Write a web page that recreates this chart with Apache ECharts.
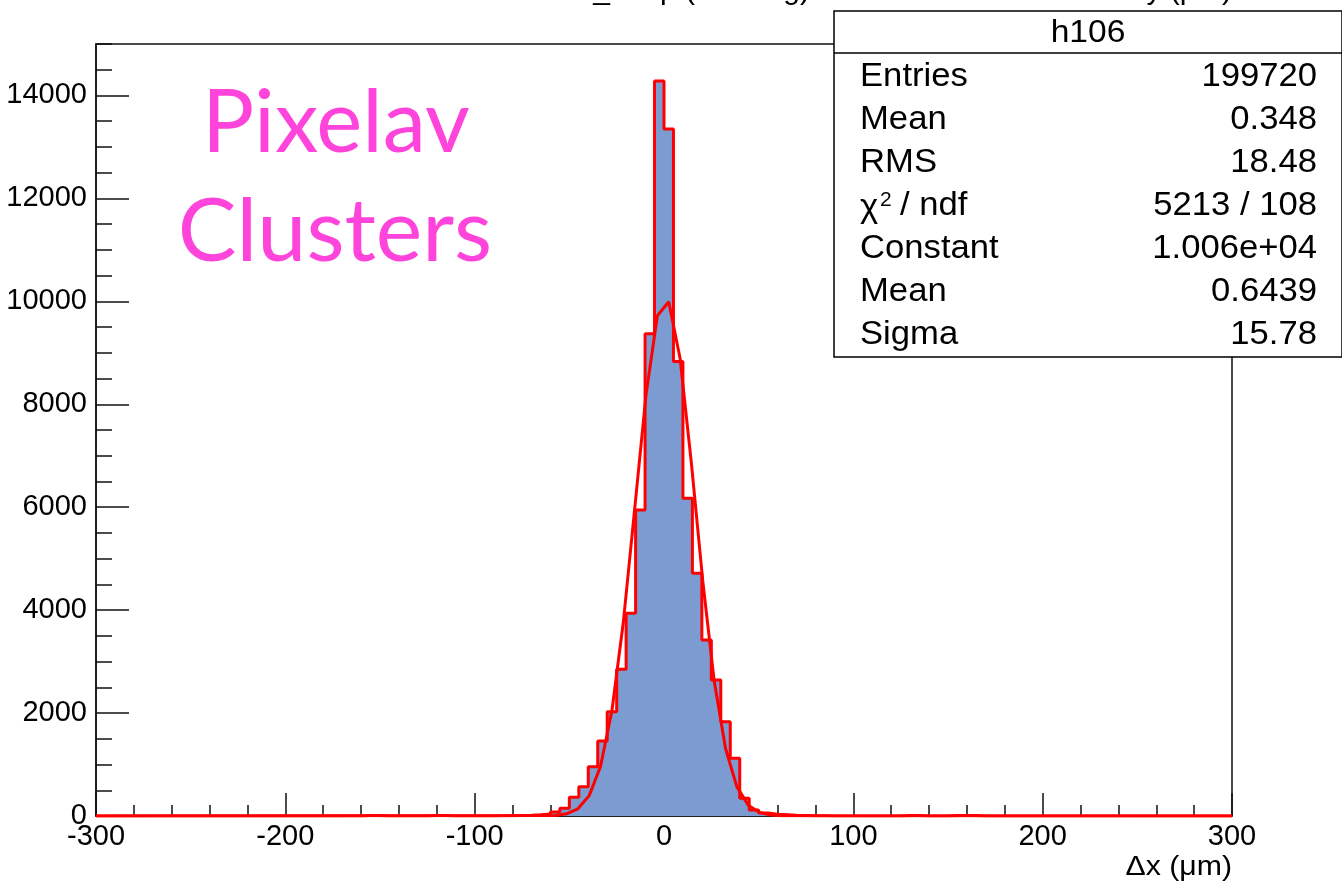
<!DOCTYPE html>
<html>
<head>
<meta charset="utf-8">
<script src="https://cdn.jsdelivr.net/npm/echarts@6/dist/echarts.min.js"></script>
<style>
  html, body { margin: 0; padding: 0; background: #fff; }
  #chart { width: 1342px; height: 883px; }
</style>
</head>
<body>
<div id="chart"></div>
<script>
// Histogram binning: 120 bins of 5 um between -300 and 300
const xLow = -300;
const xHigh = 300;
const binWidth = 5;

// Bin contents (entries per bin), left to right
const counts = [
  0, 0, 0, 0, 0, 0, 0, 0, 0, 0,
  0, 0, 0, 0, 0, 0, 0, 0, 0, 0,
  0, 0, 0, 0, 0, 0, 0, 0, 10, 10,
  0, 0, 0, 0, 0, 10, 10, 0, 0, 0,
  0, 0, 5, 5, 10, 15, 25, 40, 80, 150,
  363, 570, 958, 1458, 2028, 2851, 3940, 5948, 9368, 14280,
  13350, 8830, 6175, 4717, 3421, 2643, 1833, 1121, 344, 117,
  60, 35, 25, 15, 10, 5, 5, 0, 0, 0,
  0, 0, 0, 0, 0, 10, 10, 0, 0, 0,
  10, 10, 10, 0, 0, 0, 0, 0, 0, 0,
  0, 0, 0, 0, 0, 0, 0, 0, 0, 0,
  0, 0, 0, 0, 0, 0, 0, 0, 0, 0
];

// Gaussian fit curve, sampled points (x in um, height in entries)
const fitX = [-300, -57.5, -51.5, -45.5, -39.5, -33.5, -27.5, -21.5, -15.5, -9.5, -3.5,
  2.5, 8.5, 14.5, 20.5, 26.5, 32.5, 38.5, 44.5, 50.5, 56.5, 62.5, 300];
const fitY = [0, 11, 43, 140, 396, 968, 2051, 3759, 5961, 8182, 9719,
  9991, 8888, 6842, 4558, 2628, 1311, 566, 211, 68, 19, 5, 0];

// Axis ticks
const xTicks = [-300, -200, -100, 0, 100, 200, 300];
const yTicks = [0, 2000, 4000, 6000, 8000, 10000, 12000, 14000];

// Statistics box
const statTitle = 'h106';
const statNames = ['Entries', 'Mean', 'RMS', 'CHI2', 'Constant', 'Mean', 'Sigma'];
const statValues = ['199720', '0.348', '18.48', '5213 / 108', '1.006e+04', '0.6439', '15.78'];

const histData = counts.map((c, i) => [xLow + i * binWidth, c]);
histData.push([xHigh, counts[counts.length - 1]]);
const fitData = fitX.map((x, i) => [x, fitY[i]]);

const chart = echarts.init(document.getElementById('chart'), null, { renderer: 'canvas' });

const FONT = '"Liberation Sans", Arial, Helvetica, sans-serif';
const boxLeft = 834, boxTop = 11, boxRight = 1342, boxBottom = 357;
const rowY0 = 77, rowStep = 43;

function txt(x, y, text, size, align, extra) {
  return Object.assign({
    type: 'text', z: 102, x: x, y: y,
    style: { text: text, font: size + 'px ' + FONT, fill: '#000',
      align: align, verticalAlign: 'middle', textAlign: align, textVerticalAlign: 'middle' }
  }, extra || {});
}

const statElems = [];
statElems.push({
  type: 'rect', z: 100,
  shape: { x: boxLeft, y: boxTop, width: boxRight - boxLeft, height: boxBottom - boxTop },
  style: { fill: '#fff', stroke: '#000', lineWidth: 1.5 }
});
statElems.push({
  type: 'line', z: 101,
  shape: { x1: boxLeft, y1: 53, x2: boxRight, y2: 53 },
  style: { stroke: '#000', lineWidth: 1.5 }
});
statElems.push(txt(1088, 33, statTitle, 32, 'center', { scaleX: 1.05 }));
statNames.forEach((name, i) => {
  const y = rowY0 + i * rowStep;
  if (name === 'CHI2') {
    statElems.push(txt(860, y + 2, 'χ', 33, 'left', { scaleX: 1.05 }));
    statElems.push(txt(880, y - 6, '2', 21, 'left'));
    statElems.push(txt(900, y, '/ ndf', 33, 'left', { scaleX: 1.05 }));
  } else {
    statElems.push(txt(860, y, name, 33, 'left', { scaleX: 1.05 }));
  }
  statElems.push(txt(1317, y, statValues[i], 33, 'right', { scaleX: 1.05 }));
});

const option = {
  animation: false,
  backgroundColor: '#fff',
  grid: { left: 96, top: 44, right: 110, bottom: 67, show: true, borderColor: '#111', borderWidth: 1.5, backgroundColor: 'transparent' },
  xAxis: {
    type: 'value', min: xLow, max: xHigh, interval: 100,
    axisLine: { show: true, onZero: false, lineStyle: { color: '#111', width: 1.5 } },
    axisTick: { show: true, inside: true, length: 23, lineStyle: { color: '#111', width: 1.5 } },
    minorTick: { show: true, splitNumber: 5, length: 11, lineStyle: { color: '#111', width: 1.5 } },
    splitLine: { show: false },
    axisLabel: {
      margin: 6, fontSize: 29, fontFamily: FONT, color: '#000',
      formatter: v => xTicks.includes(v) ? String(v) : ''
    }
  },
  yAxis: [
    {
      type: 'value', min: 0, max: 15000, interval: 2000, position: 'left',
      axisLine: { show: true, onZero: false, lineStyle: { color: '#111', width: 1.5 } },
      axisTick: { show: true, inside: true, length: 33, lineStyle: { color: '#111', width: 1.5 } },
      splitLine: { show: false },
      axisLabel: {
        margin: 9, fontSize: 29, fontFamily: FONT, color: '#000', showMaxLabel: false,
        formatter: v => yTicks.includes(v) ? String(v) : ''
      }
    },
    {
      type: 'value', min: 0, max: 15000, interval: 500, position: 'left', offset: 0,
      axisLine: { show: false, onZero: false },
      axisTick: { show: true, inside: true, length: 16, lineStyle: { color: '#111', width: 1.5 } },
      splitLine: { show: false },
      axisLabel: { show: false }
    }
  ],
  series: [
    {
      type: 'line', name: 'h106', data: histData, step: 'end', yAxisIndex: 0,
      symbol: 'none', z: 2,
      lineStyle: { color: '#ff0000', width: 3 },
      areaStyle: { color: '#7b9bd1', opacity: 1 }
    },
    {
      type: 'line', name: 'gaus', data: fitData, yAxisIndex: 0,
      symbol: 'none', z: 3, smooth: false,
      lineStyle: { color: '#ff0000', width: 3 }
    }
  ],
  graphic: [
    // title, mostly above the page edge
    { type: 'text', z: 50, x: 810, y: -9,
      style: { text: 'Δx_res p (tracking)', font: '30px ' + FONT, fill: '#000',
        align: 'right', verticalAlign: 'middle', textAlign: 'right', textVerticalAlign: 'middle' } },
    { type: 'text', z: 50, x: 1232, y: -9,
      style: { text: 'vs. hit y (μm)', font: '30px ' + FONT, fill: '#000',
        align: 'right', verticalAlign: 'middle', textAlign: 'right', textVerticalAlign: 'middle' } },
    // annotation
    { type: 'text', z: 40, x: 336, y: 124,
      style: { text: 'Pixelav', font: '87px Lato, "Open Sans", sans-serif', fill: '#ff44dc',
        align: 'center', verticalAlign: 'middle', textAlign: 'center', textVerticalAlign: 'middle' } },
    { type: 'text', z: 40, x: 335, y: 233,
      style: { text: 'Clusters', font: '88px Lato, "Open Sans", sans-serif', fill: '#ff44dc',
        align: 'center', verticalAlign: 'middle', textAlign: 'center', textVerticalAlign: 'middle' } },
    // x axis title
    { type: 'text', z: 40, x: 1232, y: 867, scaleX: 1.08,
      style: { text: 'Δx (μm)', font: '28px ' + FONT, fill: '#000',
        align: 'right', verticalAlign: 'middle', textAlign: 'right', textVerticalAlign: 'middle' } }
  ].concat(statElems)
};

chart.setOption(option);
</script>
</body>
</html>
